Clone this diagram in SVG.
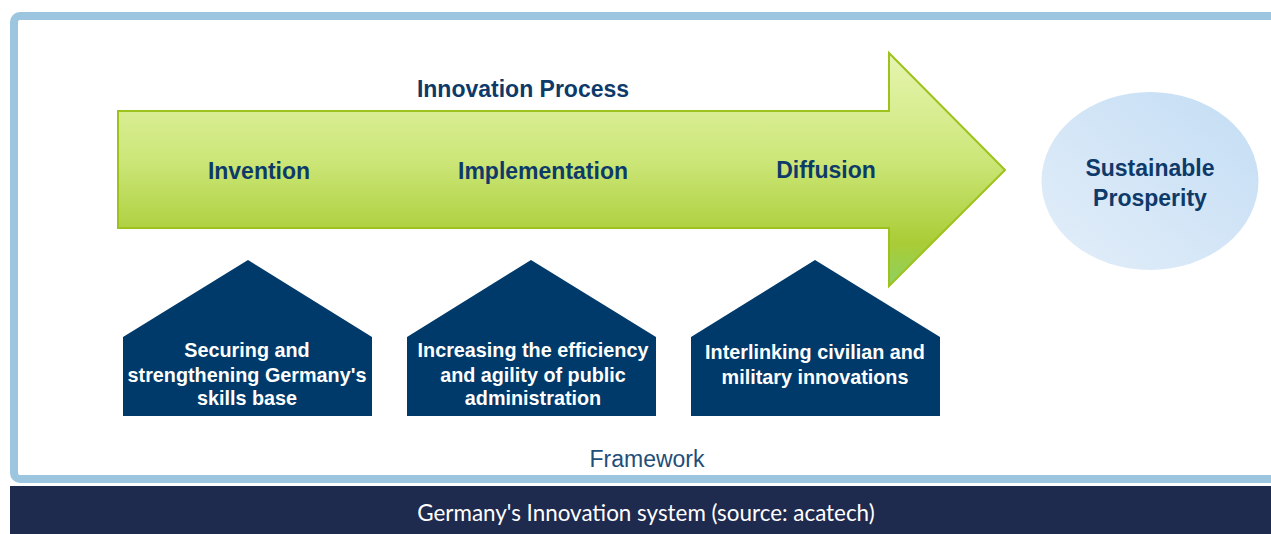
<svg xmlns="http://www.w3.org/2000/svg" width="1271" height="534" viewBox="0 0 1271 534">
<defs>
<linearGradient id="gArrow" x1="0" y1="0" x2="0" y2="1" gradientUnits="objectBoundingBox">
<stop offset="0" stop-color="#E6F5B0"/>
<stop offset="0.45" stop-color="#CDE77A"/>
<stop offset="0.82" stop-color="#A9CC35"/>
<stop offset="1" stop-color="#8ED063"/>
</linearGradient>
<linearGradient id="gEll" x1="0" y1="1" x2="1" y2="0">
<stop offset="0" stop-color="#E3EEF9"/>
<stop offset="1" stop-color="#C3DDF4"/>
</linearGradient>
<style>
.t{font-family:"Liberation Sans",Arial,sans-serif;font-weight:bold;text-anchor:middle}
.blue{fill:#0E3A6A;font-size:23px}
.white{fill:#FFFFFF;font-size:19.8px}
.house{fill:#003A6A}
</style>
</defs>
<rect x="0" y="0" width="1271" height="534" fill="#FFFFFF"/>
<rect x="14" y="16" width="1270" height="463" rx="6" fill="#FFFFFF" stroke="#9CC5E0" stroke-width="8"/>
<rect x="10" y="486" width="1261" height="48" fill="#1F2A4F"/>
<g id="arrow">
<path d="M118,111 H889 V53 L1005,170 L889,286 V228 H118 Z" fill="url(#gArrow)" stroke="#9DC21E" stroke-width="2"/>
<text class="t blue" x="523" y="97">Innovation Process</text>
<text class="t blue" x="259" y="179">Invention</text>
<text class="t blue" x="543" y="179">Implementation</text>
<text class="t blue" x="826" y="178">Diffusion</text>
</g>
<g id="prosperity">
<ellipse cx="1150" cy="181" rx="108.5" ry="89" fill="url(#gEll)"/>
<text class="t blue" x="1150" y="176">Sustainable</text>
<text class="t blue" x="1150" y="206">Prosperity</text>
</g>
<g id="house1">
<path class="house" d="M123,337 L248,260 L372,337 V416 H123 Z"/>
<text class="t white" x="247" y="357">Securing and</text>
<text class="t white" x="247" y="382">strengthening Germany's</text>
<text class="t white" x="247" y="405">skills base</text>
</g>
<g id="house2">
<path class="house" d="M407,337 L531,260 L656,337 V416 H407 Z"/>
<text class="t white" x="533" y="357">Increasing the efficiency</text>
<text class="t white" x="533" y="382">and agility of public</text>
<text class="t white" x="533" y="405">administration</text>
</g>
<g id="house3">
<path class="house" d="M691,337 L815,260 L940,337 V416 H691 Z"/>
<text class="t white" x="815" y="359">Interlinking civilian and</text>
<text class="t white" x="815" y="384">military innovations</text>
</g>
<g id="connectors"></g>
<text x="647" y="467" font-family="'Liberation Sans',Arial,sans-serif" font-size="23" fill="#1F4E79" text-anchor="middle">Framework</text>
<text x="646" y="521" font-family="Lato,'Open Sans',sans-serif" font-size="22.4" fill="#FFFFFF" text-anchor="middle">Germany's Innovation system (source: acatech)</text>
</svg>
